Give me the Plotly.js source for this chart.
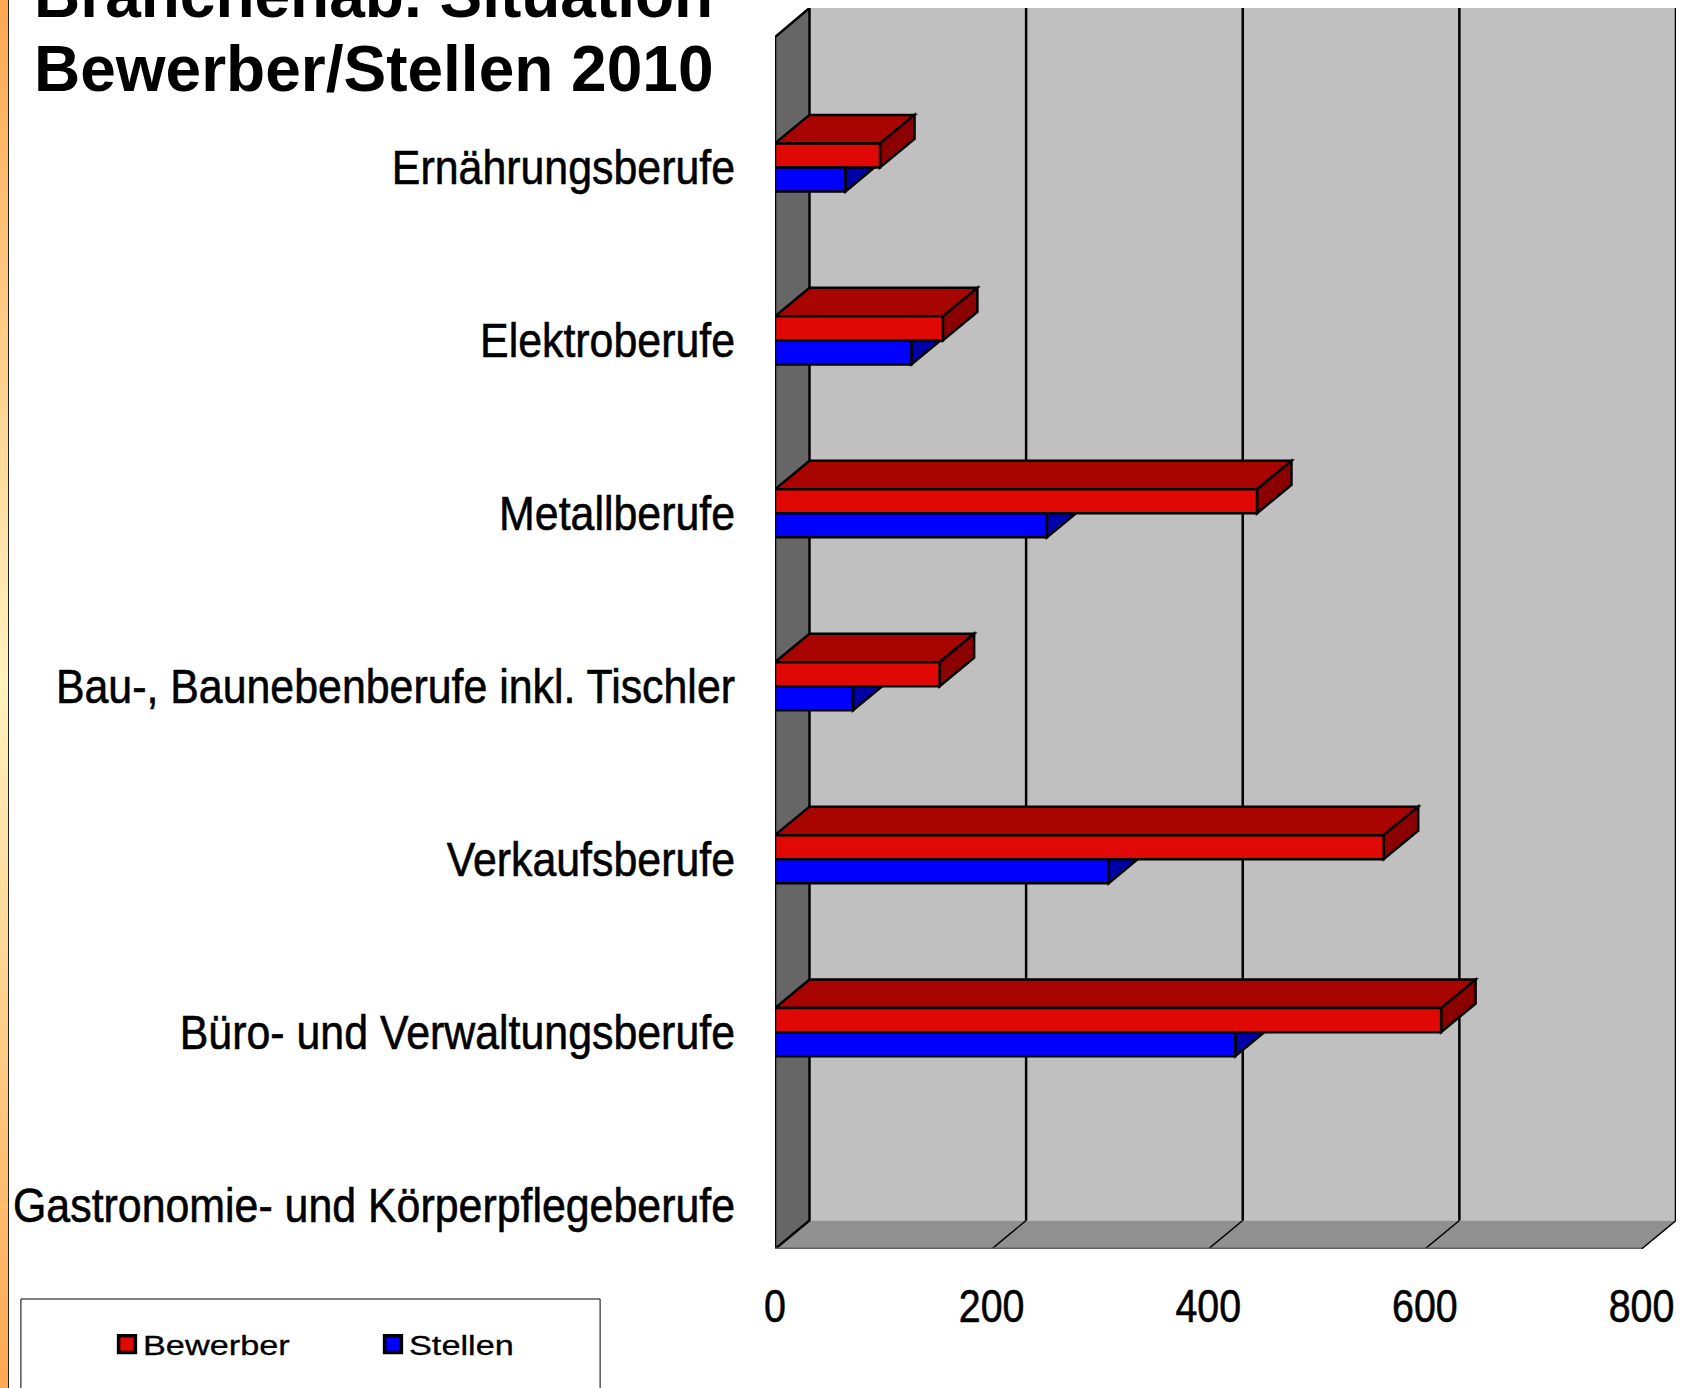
<!DOCTYPE html>
<html>
<head>
<meta charset="utf-8">
<script src="https://cdn.plot.ly/plotly-3.0.1.min.js"></script>
<style>
html,body{margin:0;padding:0;width:1681px;height:1388px;overflow:hidden;background:#fff}
#stripe{position:absolute;left:0;top:0;width:8px;height:1388px;border-right:1px solid #222;background:linear-gradient(to bottom,#ffa850 0%,#fff3c0 49%,#ffa850 100%)}
#chart{position:absolute;left:0;top:0;width:1681px;height:1388px}
</style>
</head>
<body>
<div id="stripe"></div>
<div id="chart"></div>
<script>
const categories = ['Ernährungsberufe','Elektroberufe','Metallberufe','Bau-, Baunebenberufe inkl. Tischler','Verkaufsberufe','Büro- und Verwaltungsberufe','Gastronomie- und Körperpflegeberufe'];
const bewerber = [97,155,445,152,562,615,null];
const stellen = [65,126,251,72,308,425,null];
const xTicks = [0,200,400,600,800];
const titleText = 'Branchenab. Situation<br>Bewerber/Stellen 2010';

const depthX = 31.84, depthY = 0.1648;
const yFrontTop = -0.754, yBottom = 6.254, yTop = -0.922, barH = 0.139;

const poly = (pts, fill, w) => ({type:'path', xref:'x', yref:'y', layer:'below',
  path:'M'+pts.map(p=>p[0]+','+p[1]).join('L')+'Z', fillcolor:fill,
  line:{color:'#000', width:w===undefined?2.5:w}});
const seg = (x0,y0,x1,y1,c,w) => ({type:'line', xref:'x', yref:'y', layer:'below', x0,y0,x1,y1, line:{color:c,width:w}});

const shapes = [];
shapes.push(poly([[depthX,yTop],[800+depthX,yTop],[800+depthX,yBottom-depthY],[depthX,yBottom-depthY]],'#c0c0c0',0));
shapes.push(poly([[depthX,yBottom-depthY],[800+depthX,yBottom-depthY],[800,yBottom],[0,yBottom]],'#909090',0));
xTicks.slice(1).forEach(t=>{
  shapes.push(seg(t+depthX,yTop,t+depthX,yBottom-depthY,'#000',2.5));
  shapes.push(seg(t+depthX,yBottom-depthY,t,yBottom,'#000',1.5));
});
shapes.push(poly([[0,yFrontTop],[depthX,yTop],[depthX,yBottom-depthY],[0,yBottom]],'#666666',2.5));
shapes.push(seg(0,yBottom,800,yBottom,'#606060',3));
categories.forEach((c,i)=>{
  if(stellen[i]!=null){
    const v=stellen[i], t=i, b=i+barH;
    shapes.push(poly([[v,t],[v+depthX,t-depthY],[v+depthX,b-depthY],[v,b]],'#0000a8'));
  }
});
categories.forEach((c,i)=>{
  if(bewerber[i]!=null){
    const v=bewerber[i], t=i-barH, b=i;
    shapes.push(poly([[0,t],[depthX,t-depthY],[v+depthX,t-depthY],[v,t]],'#a80400'));
    shapes.push(poly([[v,t],[v+depthX,t-depthY],[v+depthX,b-depthY],[v,b]],'#8b0000'));
  }
});
shapes.push({type:'rect', xref:'paper', yref:'paper', layer:'below',
  x0:(20.5-775)/901.5, x1:(600-775)/901.5, y0:(1249-1500)/1240.7, y1:(1249-1299)/1240.7,
  fillcolor:'rgba(0,0,0,0)', line:{color:'#000',width:1}});

const traces = [
  {type:'bar', orientation:'h', name:'Bewerber', y:categories, x:bewerber,
   marker:{color:'#e00804', line:{color:'#000',width:2.5}}},
  {type:'bar', orientation:'h', name:'Stellen', y:categories, x:stellen,
   marker:{color:'#0000ff', line:{color:'#000',width:2.5}}}
];

const layout = {
  width:1681, height:1388,
  margin:{l:775,r:4.5,t:8.3,b:139,pad:0},
  paper_bgcolor:'rgba(0,0,0,0)', plot_bgcolor:'rgba(0,0,0,0)',
  barmode:'group', bargap:1-2*barH, bargroupgap:0,
  font:{family:'"Liberation Sans", Arial, sans-serif', color:'#000'},
  title:{text:titleText, xref:'container', yref:'container', x:34/1681, xanchor:'left', y:1-17/1388, yanchor:'top',
    font:{family:'"Liberation Sans", Arial, sans-serif', size:64, weight:'bold', color:'#000'}},
  xaxis:{type:'linear', range:[0,800+depthX], tickvals:xTicks, ticktext:xTicks.map(String),
    showgrid:false, zeroline:false, showline:false, ticks:'', ticklabelstandoff:26,
    tickfont:{family:'"Liberation Sans", sans-serif', size:46}},
  yaxis:{type:'category', categoryorder:'array', categoryarray:categories, range:[yBottom,yTop],
    showgrid:false, zeroline:false, showline:false, ticks:'', ticklabelstandoff:39,
    tickfont:{family:'"Liberation Sans", sans-serif', size:48}},
  legend:{orientation:'h', xref:'container', yref:'container', x:103/1681, xanchor:'left', y:1-1320/1388, yanchor:'top',
    traceorder:'normal', bgcolor:'rgba(0,0,0,0)', borderwidth:0, entrywidth:221, entrywidthmode:'pixels',
    font:{family:'"Liberation Sans", Arial, sans-serif', size:27}},
  shapes
};

// The reference's lettering is a squeezed (or stretched) Arial: set its run length, keep it real text.
const fit = (el, s, stroke) => {
  el.setAttribute('textLength', el.getComputedTextLength()*s);
  el.setAttribute('lengthAdjust','spacingAndGlyphs');
  if(stroke){ el.style.stroke='#000'; el.style.strokeWidth=stroke+'px'; }
};
Plotly.newPlot('chart', traces, layout, {displayModeBar:false, staticPlot:true}).then(gd=>{
  gd.querySelectorAll('.gtitle tspan.line').forEach((t,i)=>{ if(i>0) t.setAttribute('dy',(i*1.16)+'em'); });
  gd.querySelectorAll('.ytick text').forEach(t=>fit(t,0.893,0.6));
  gd.querySelectorAll('.xtick text').forEach(t=>fit(t,0.855,0.6));
  gd.querySelectorAll('.legendtext').forEach(t=>fit(t,1.27,0.3));
  gd.querySelectorAll('.legendpoints path').forEach(p=>{
    const tr=p.getAttribute('transform')||'';
    p.setAttribute('transform','translate(4,0) '+tr+' scale(1.4)');
  });
});
</script>
</body>
</html>
